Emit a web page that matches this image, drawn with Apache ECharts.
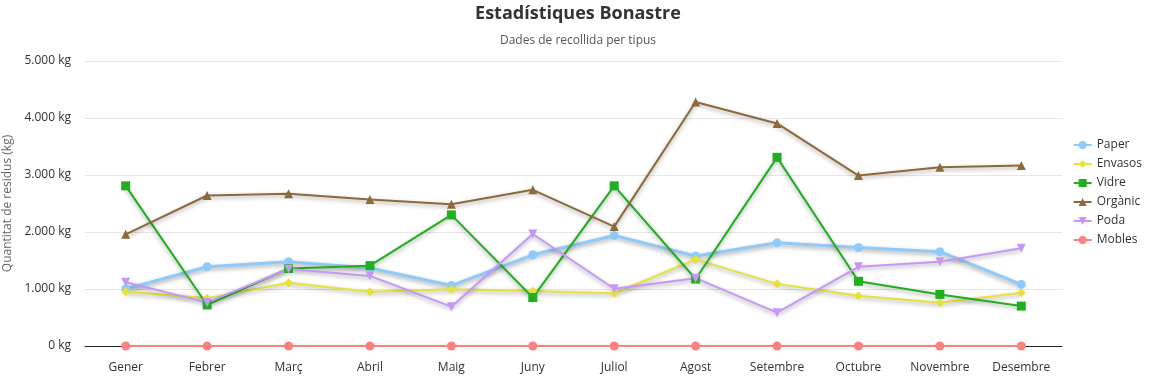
<!DOCTYPE html>
<html lang="ca">
<head>
  <meta charset="UTF-8" />
  <title>Estadístiques Bonastre</title>
  <script src="https://cdn.jsdelivr.net/npm/echarts@6/dist/echarts.min.js"></script>
  <style>
    html, body { margin: 0; padding: 0; background: #fff; }
    #chart { width: 1156px; height: 377px; }
  </style>
</head>
<body>
  <div id="chart"></div>
  <script>
    var months = ["Gener", "Febrer", "Març", "Abril", "Maig", "Juny", "Juliol", "Agost", "Setembre", "Octubre", "Novembre", "Desembre"];

    var paper   = [1000, 1390, 1480, 1370, 1060, 1600, 1940, 1580, 1810, 1730, 1655, 1080];
    var envasos = [950, 840, 1110, 950, 995, 965, 925, 1520, 1090, 880, 760, 935];
    var vidre   = [2810, 720, 1360, 1410, 2300, 850, 2810, 1175, 3310, 1135, 905, 700];
    var organic = [1960, 2640, 2670, 2570, 2485, 2740, 2095, 4280, 3905, 2990, 3135, 3165];
    var poda    = [1120, 765, 1350, 1230, 690, 1965, 1005, 1190, 585, 1390, 1480, 1715];
    var mobles  = [0, 0, 0, 0, 0, 0, 0, 0, 0, 0, 0, 0];

    var font = "'Open Sans', 'Noto Sans', sans-serif";

    function fmtKg(v) {
      return String(v).replace(/\B(?=(\d{3})+(?!\d))/g, ".") + " kg";
    }

    function line(name, data, color, symbol, width, rotate) {
      return {
        name: name,
        type: "line",
        data: data,
        symbol: symbol,
        symbolSize: 9,
        symbolRotate: rotate || 0,
        showAllSymbol: true,
        itemStyle: { color: color },
        lineStyle: {
          width: width,
          color: color,
          shadowColor: "rgba(0,0,0,0.35)",
          shadowBlur: 4,
          shadowOffsetY: 2
        }
      };
    }

    var chart = echarts.init(document.getElementById("chart"));
    chart.setOption({
      animation: false,
      textStyle: { fontFamily: font },
      title: {
        text: "Estadístiques Bonastre",
        subtext: "Dades de recollida per tipus",
        left: "center",
        top: 0,
        itemGap: 12,
        textStyle: { fontSize: 18, fontWeight: "bold", color: "#333", fontFamily: font },
        subtextStyle: { fontSize: 12, color: "#555", fontFamily: font }
      },
      legend: {
        orient: "vertical",
        right: 9,
        top: 134,
        itemWidth: 18,
        itemHeight: 10,
        itemGap: 7,
        textStyle: { fontSize: 12, color: "#333", fontFamily: font },
        data: ["Paper", "Envasos", "Vidre", "Orgànic", "Poda", "Mobles"]
      },
      grid: { left: 85, right: 94, top: 61, bottom: 31, outerBoundsMode: "none", containLabel: false },
      xAxis: {
        type: "category",
        data: months,
        boundaryGap: true,
        axisTick: { show: false },
        axisLine: { lineStyle: { color: "#222", width: 1 } },
        axisLabel: { color: "#333", fontSize: 12, margin: 16 }
      },
      yAxis: {
        type: "value",
        min: 0,
        max: 5000,
        interval: 1000,
        name: "Quantitat de residus (kg)",
        nameLocation: "middle",
        nameGap: 70,
        nameTextStyle: { color: "#666", fontSize: 12 },
        axisLine: { show: false },
        axisTick: { show: false },
        splitLine: { lineStyle: { color: "#e6e6e6" } },
        axisLabel: { color: "#333", fontSize: 12, margin: 14, formatter: fmtKg }
      },
      series: [
        line("Paper", paper, "#90caf9", "circle", 3),
        line("Envasos", envasos, "#e6e23c", "diamond", 2),
        line("Vidre", vidre, "#1faf1f", "rect", 2),
        line("Orgànic", organic, "#8c6a3b", "triangle", 2),
        line("Poda", poda, "#c697f6", "triangle", 2, 180),
        line("Mobles", mobles, "#fb8080", "circle", 2)
      ]
    });
  </script>
</body>
</html>
